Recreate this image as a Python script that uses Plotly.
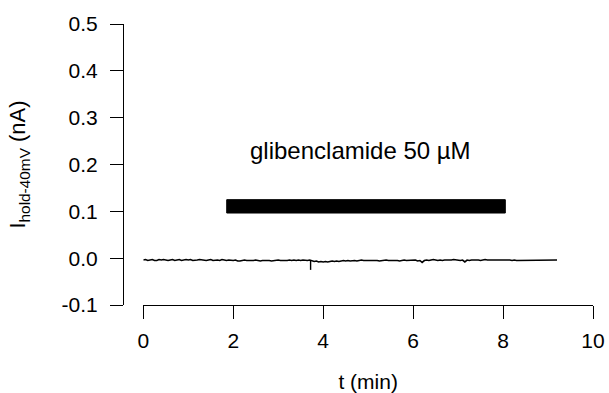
import plotly.graph_objects as go

# sampled holding current (pA), every 0.05 min from 0 to 9.2 min
current_pA = [
    -4, -3, -5, -4, -3, -5, -5, -3, -4, -3, -4, -5, -4, -3, -5, -4, -3, -5, -4, -3,
    -4, -3, -5, -5, -4, -3, -4, -5, -5, -4, -3, -5, -4, -4, -5, -3, -4, -5, -4, -5,
    -5, -4, -6, -6, -5, -4, -5, -5, -6, -5, -4, -5, -6, -5, -5, -4, -5, -6, -5, -5,
    -4, -5, -5, -6, -5, -4, -5, -4, -5, -4, -5, -4, -5, -5, -4, -6, -7, -6, -8, -7,
    -8, -7, -8, -7, -6, -7, -6, -7, -6, -5, -6, -5, -6, -5, -5, -6, -5, -4, -5, -5,
    -4, -5, -5, -4, -5, -6, -5, -5, -4, -5, -5, -4, -5, -5, -6, -5, -4, -5, -5, -4,
    -5, -4, -6, -5, -9, -5, -4, -5, -4, -3, -4, -5, -4, -5, -4, -4, -5, -4, -3, -4,
    -4, -5, -4, -8, -4, -5, -4, -4, -3, -4, -5, -4, -3, -4, -4, -3, -4, -4, -3, -4,
    -4, -3, -4, -4, -5, -4, -5, -5, -4, -5, -4, -5, -5, -4, -5, -5, -4, -5, -5, -4,
    -5, -4, -5, -5, -4,
]
sample_step_min = 0.05
time_min = [round(i * sample_step_min, 2) for i in range(len(current_pA))]
current_nA = [v / 1000 for v in current_pA]

# brief artefact spike
spike_t = [3.72, 3.72]
spike_nA = [-0.005, -0.025]

# drug application bar
drug_label = "glibenclamide 50 µM"
drug_start = 1.855
drug_end = 8.05
drug_low = 0.0964
drug_high = 0.1249
label_x = 4.82
label_y = 0.23

x_ticks = [0, 2, 4, 6, 8, 10]
y_ticks = [-0.1, 0.0, 0.1, 0.2, 0.3, 0.4, 0.5]
y_tick_text = ["-0.1", "0.0", "0.1", "0.2", "0.3", "0.4", "0.5"]

FONT = "Liberation Sans, Arial, Helvetica, sans-serif"

fig = go.Figure()
fig.add_trace(go.Scatter(x=time_min, y=current_nA, mode="lines",
                         line=dict(color="black", width=1.6), showlegend=False,
                         hoverinfo="skip"))
fig.add_trace(go.Scatter(x=spike_t, y=spike_nA, mode="lines",
                         line=dict(color="black", width=1.4), showlegend=False,
                         hoverinfo="skip"))

fig.add_shape(type="rect", xref="x", yref="y", x0=drug_start, x1=drug_end,
              y0=drug_low, y1=drug_high, fillcolor="black",
              line=dict(color="black", width=1))
fig.add_annotation(x=label_x, y=label_y, xref="x", yref="y", text=drug_label,
                   showarrow=False, font=dict(family=FONT, size=24, color="black"))

W, H = 609, 393
ml, mr, mt, mb = 123, 16, 24, 88
plot_w = W - ml - mr

fig.update_layout(
    width=W, height=H,
    margin=dict(l=ml, r=mr, t=mt, b=mb, autoexpand=False),
    paper_bgcolor="white", plot_bgcolor="white",
    font=dict(family=FONT, size=21, color="black"),
    xaxis=dict(
        domain=[(143.3 - ml) / plot_w, 1], range=[0, 10],
        anchor="free", position=0, automargin=False,
        tickvals=x_ticks, ticks="outside", ticklen=13, tickwidth=1,
        tickcolor="black", showline=True, linecolor="black", linewidth=1,
        showgrid=False, zeroline=False, ticklabelstandoff=4,
        tickfont=dict(size=21),
        title=dict(text="t (min)", font=dict(size=21), standoff=25),
    ),
    yaxis=dict(
        domain=[0, 1], range=[-0.1, 0.5],
        anchor="free", position=0, automargin=False,
        tickvals=y_ticks, ticktext=y_tick_text, ticks="outside", ticklen=13,
        tickwidth=1, tickcolor="black", showline=True, linecolor="black",
        linewidth=1, showgrid=False, zeroline=False, ticklabelstandoff=8,
        tickfont=dict(size=21),
        title=dict(text="I<sub>hold-40mV</sub> (nA)", font=dict(size=22),
                   standoff=28),
    ),
)

fig.write_html("out.html",
               config={"displayModeBar": False, "staticPlot": True},
               post_script="document.body.style.margin='0';"
                           "document.body.style.overflow='hidden';")
